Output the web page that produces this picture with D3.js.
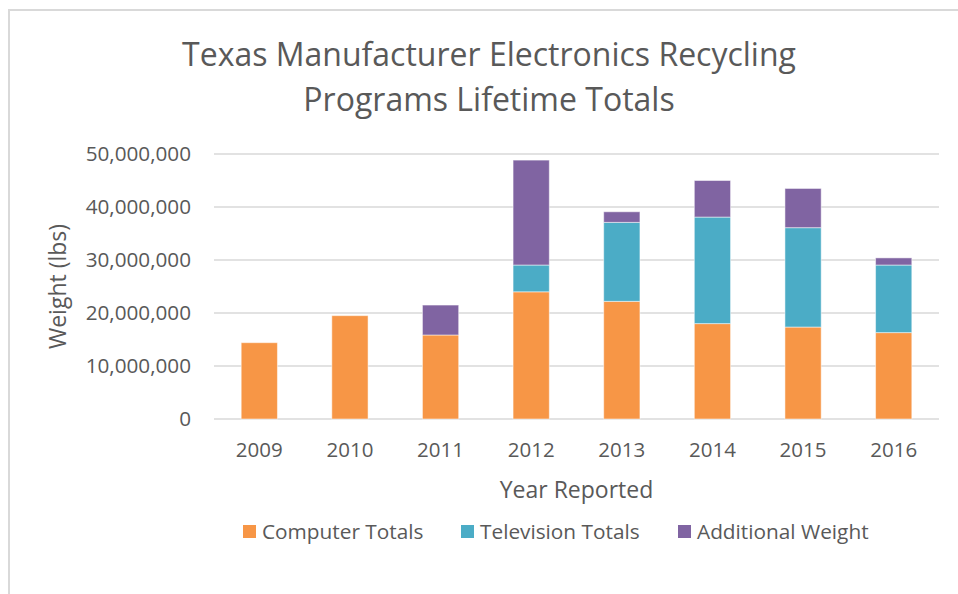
<!DOCTYPE html>
<html>
<head>
<script src="https://d3js.org/d3.v7.min.js"></script>
<style>
  body { margin: 0; background: #fff; }
  svg text { font-family: "Open Sans", sans-serif; fill: #595959; }
</style>
</head>
<body>
<svg id="chart"></svg>
<script>
// data (lbs)
const years = ['2009', '2010', '2011', '2012', '2013', '2014', '2015', '2016'];
const computerTotals = [14400000, 19500000, 15850000, 24000000, 22200000, 18000000, 17350000, 16300000];
const televisionTotals = [0, 0, 0, 5050000, 14900000, 20100000, 18750000, 12750000];
const additionalWeight = [0, 0, 5650000, 19800000, 2000000, 6900000, 7400000, 1350000];
const seriesNames = ['Computer Totals', 'Television Totals', 'Additional Weight'];
const colors = ['#F79646', '#4BACC6', '#8064A2'];
const yTicks = [0, 10000000, 20000000, 30000000, 40000000, 50000000];

const W = 958, H = 594;
const svg = d3.select('#chart').attr('width', W).attr('height', H);

// chart area border
svg.append('path')
   .attr('d', `M9,${H} L9,10 L${W},10`)
   .attr('fill', 'none')
   .attr('stroke', '#d9d9d9')
   .attr('stroke-width', 2);

const plotLeft = 214, plotRight = 939, plotTop = 154, plotBottom = 419;

const rows = years.map((y, i) => ({
    year: y,
    'Computer Totals': computerTotals[i],
    'Television Totals': televisionTotals[i],
    'Additional Weight': additionalWeight[i]
}));

const stacked = d3.stack().keys(seriesNames)(rows);

const x = d3.scaleBand().domain(years).range([plotLeft, plotRight]).paddingInner(0.6).paddingOuter(0.3);
const y = d3.scaleLinear().domain([0, 50000000]).range([plotBottom, plotTop]);

// gridlines
svg.append('g')
   .selectAll('line')
   .data(yTicks)
   .join('line')
   .attr('x1', plotLeft).attr('x2', plotRight)
   .attr('y1', d => y(d)).attr('y2', d => y(d))
   .attr('stroke', '#d9d9d9')
   .attr('stroke-width', 1.5);

// y tick labels
svg.append('g')
   .selectAll('text')
   .data(yTicks)
   .join('text')
   .attr('x', 191)
   .attr('y', d => y(d))
   .attr('dy', '0.35em')
   .attr('text-anchor', 'end')
   .attr('font-size', 20.7)
   .text(d => d3.format(',')(d));

// bars
svg.append('g')
   .selectAll('g')
   .data(stacked)
   .join('g')
   .attr('fill', (d, i) => colors[i])
   .selectAll('rect')
   .data(d => d.filter(s => s[1] - s[0] > 0))
   .join('rect')
   .attr('x', d => x(d.data.year))
   .attr('width', x.bandwidth())
   .attr('y', d => y(d[1]))
   .attr('height', d => y(d[0]) - y(d[1]))
   .attr('stroke', '#ffffff')
   .attr('stroke-opacity', 0.5)
   .attr('stroke-width', 1);

// x labels
svg.append('g')
   .selectAll('text')
   .data(years)
   .join('text')
   .attr('x', d => x(d) + x.bandwidth() / 2)
   .attr('y', 450)
   .attr('dy', '0.35em')
   .attr('text-anchor', 'middle')
   .attr('font-size', 20.5)
   .text(d => d);

// titles
svg.append('text')
   .attr('x', 489).attr('y', 66)
   .attr('text-anchor', 'middle')
   .attr('font-size', 32)
   .text('Texas Manufacturer Electronics Recycling');
svg.append('text')
   .attr('x', 489).attr('y', 111)
   .attr('text-anchor', 'middle')
   .attr('font-size', 32)
   .text('Programs Lifetime Totals');

svg.append('text')
   .attr('x', (plotLeft + plotRight) / 2).attr('y', 490)
   .attr('dy', '0.35em')
   .attr('text-anchor', 'middle')
   .attr('font-size', 23)
   .text('Year Reported');

svg.append('text')
   .attr('transform', `translate(58,${(plotTop + plotBottom) / 2}) rotate(-90)`)
   .attr('dy', '0.35em')
   .attr('text-anchor', 'middle')
   .attr('font-size', 23)
   .text('Weight (lbs)');

// legend
const legendX = [243, 461, 678];
const legend = svg.append('g')
   .selectAll('g')
   .data(seriesNames)
   .join('g')
   .attr('transform', (d, i) => `translate(${legendX[i]},525)`);
legend.append('rect')
   .attr('width', 13).attr('height', 13)
   .attr('fill', (d, i) => colors[i]);
legend.append('text')
   .attr('x', 19).attr('y', 7)
   .attr('dy', '0.35em')
   .attr('font-size', 20.8)
   .text(d => d);
</script>
</body>
</html>
